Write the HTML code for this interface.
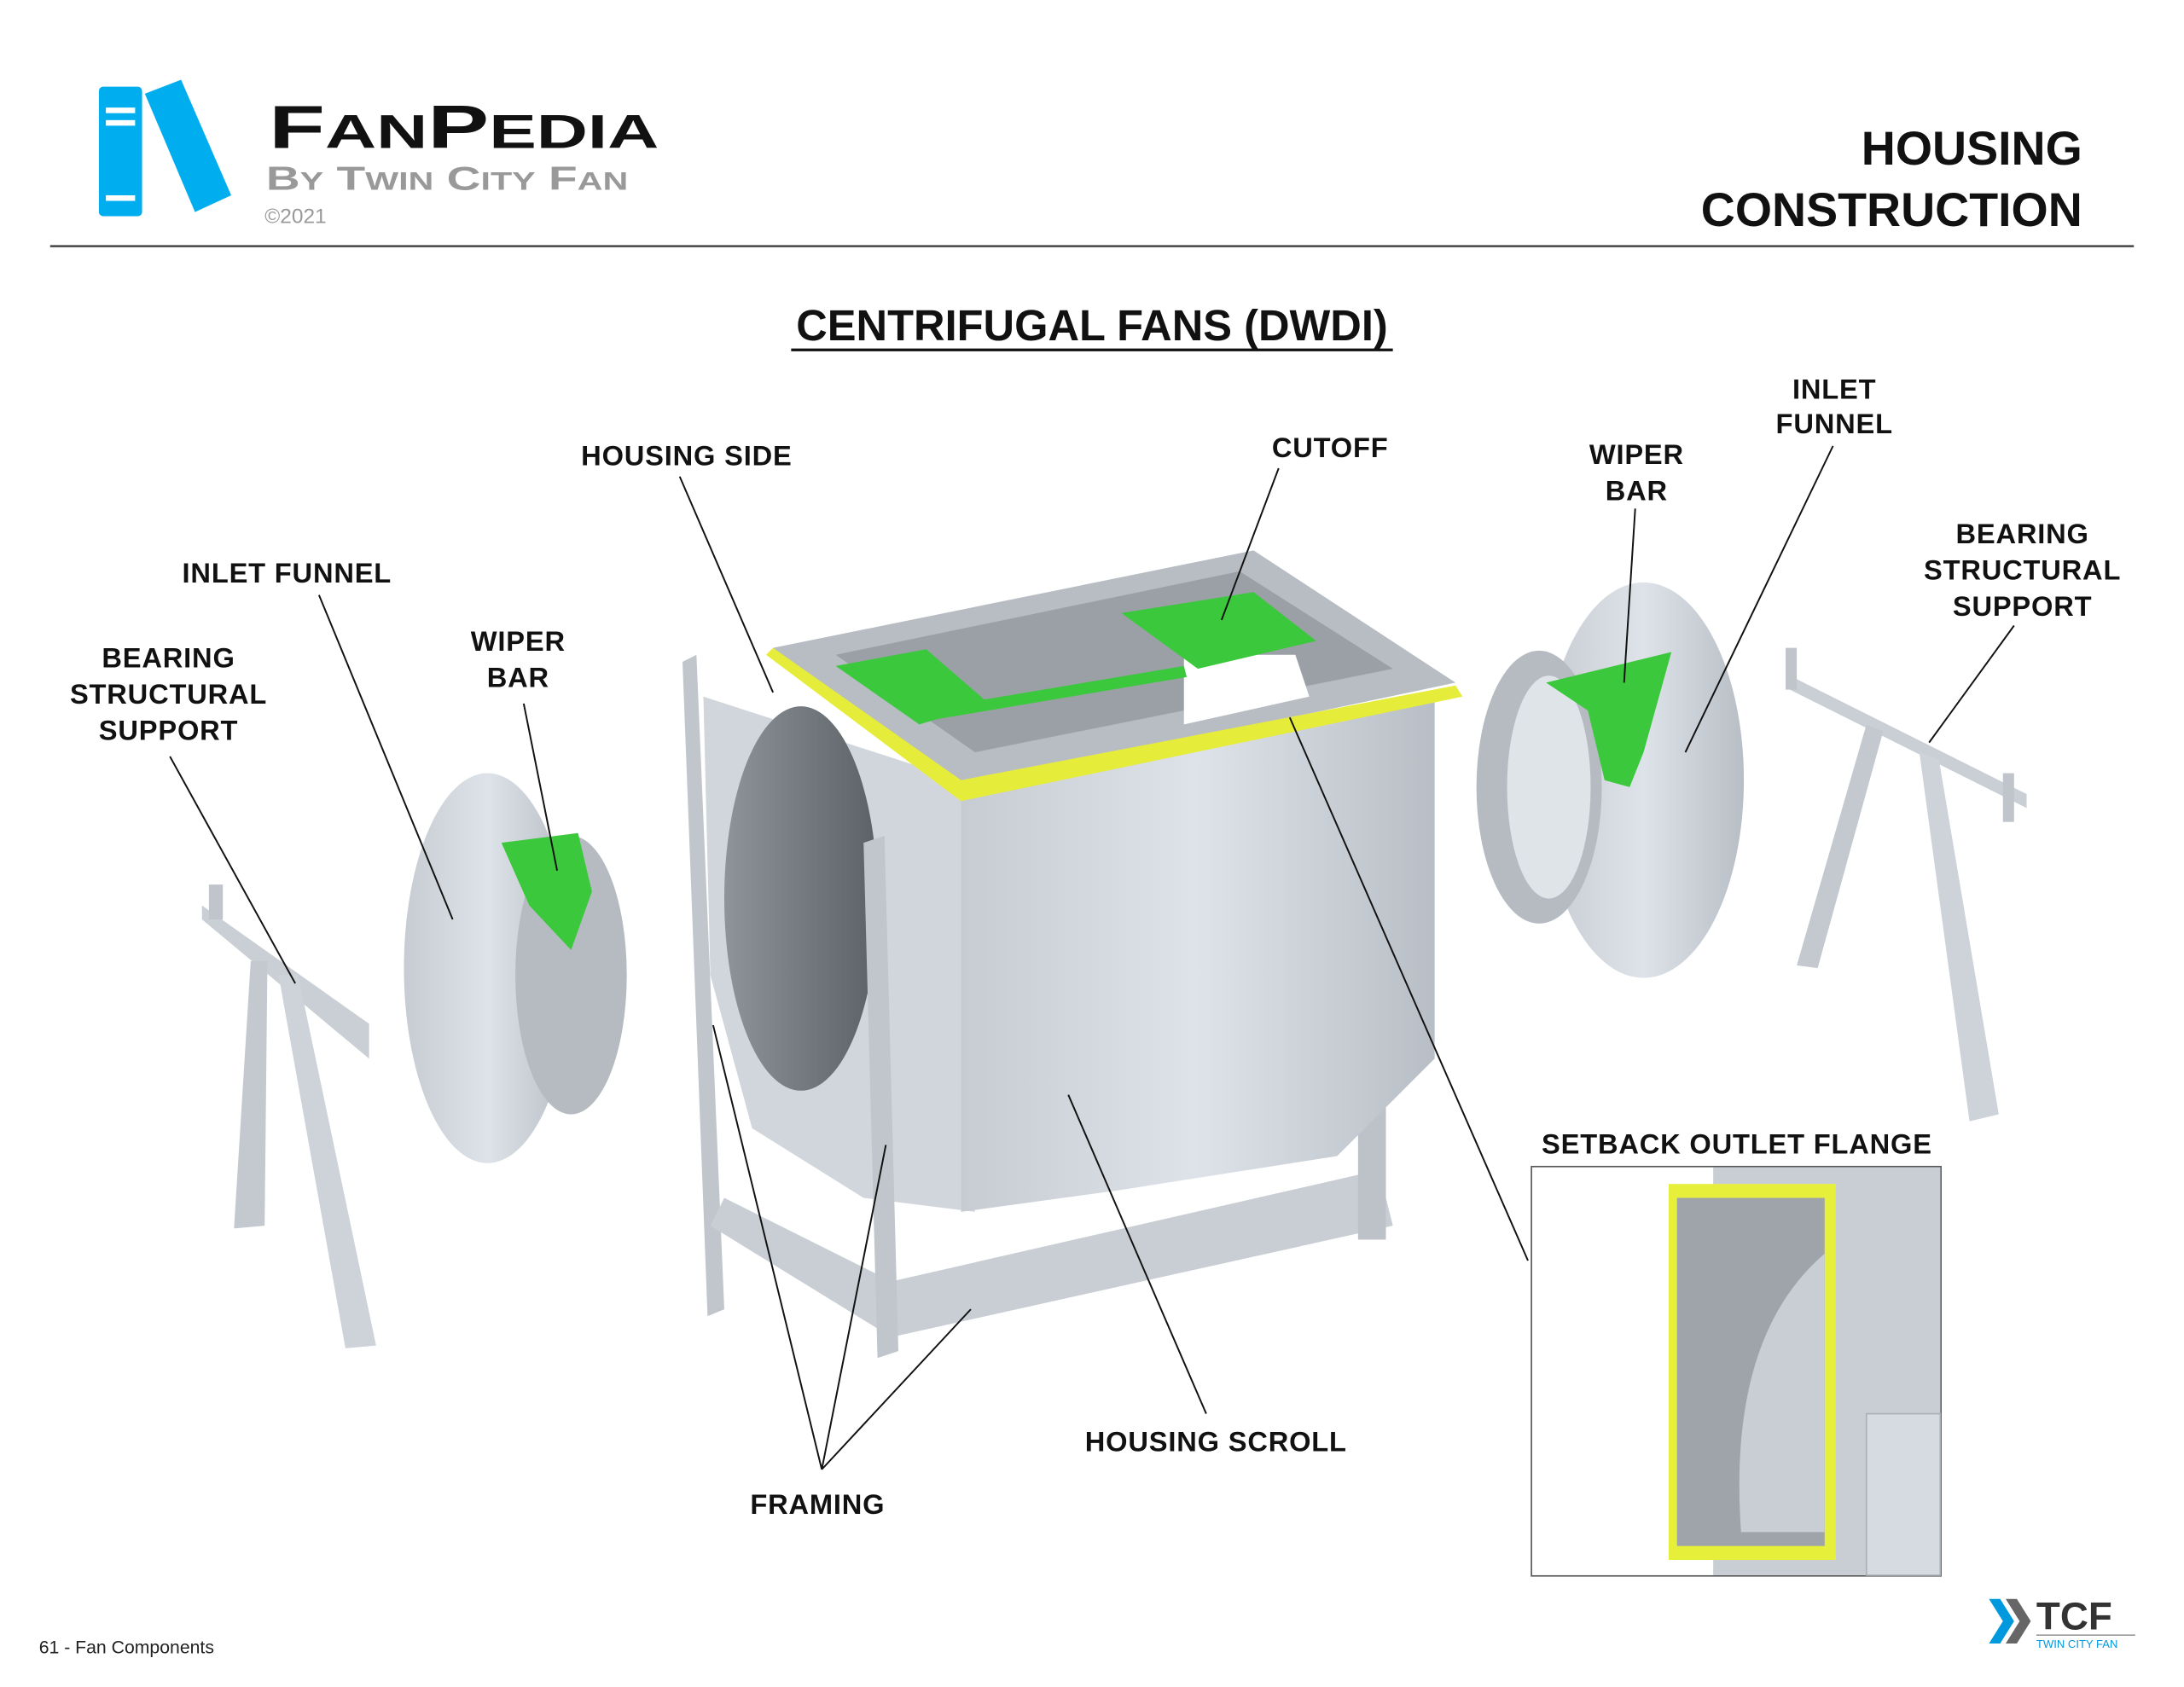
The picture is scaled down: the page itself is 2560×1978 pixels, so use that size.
<!DOCTYPE html>
<html><head><meta charset="utf-8"><style>
html,body{margin:0;padding:0;background:#fff}
svg{display:block}
text{font-family:"Liberation Sans",sans-serif}
.l{font-weight:bold;font-size:20px;fill:#111;text-anchor:middle;letter-spacing:0.5px}
.ln{stroke:#111;stroke-width:1.2;fill:none}
</style></head><body>
<svg width="2560" height="1978" viewBox="0 0 1568 1211" xmlns="http://www.w3.org/2000/svg">
<defs>
<linearGradient id="g1" x1="0" x2="1"><stop offset="0" stop-color="#c6ccd2"/><stop offset="0.5" stop-color="#dde3e9"/><stop offset="1" stop-color="#b8bec5"/></linearGradient>
<linearGradient id="g2" x1="0" x2="1"><stop offset="0" stop-color="#8e949a"/><stop offset="1" stop-color="#5c6166"/></linearGradient>
</defs>
<rect x="71" y="62" width="31" height="93" rx="3" fill="#00aeef"/>
<rect x="76" y="77" width="21" height="4" fill="#fff"/><rect x="76" y="86" width="21" height="4" fill="#fff"/><rect x="76" y="140" width="21" height="4" fill="#fff"/>
<polygon points="104,67 130,57 166,140 140,152" fill="#00aeef"/>
<text x="193" y="106" font-size="44" font-weight="bold" fill="#111" textLength="280" lengthAdjust="spacingAndGlyphs">F<tspan font-size="34">AN</tspan>P<tspan font-size="34">EDIA</tspan></text>
<text x="191" y="136" font-size="24" fill="#999" font-weight="bold" textLength="260" lengthAdjust="spacingAndGlyphs">B<tspan font-size="18">Y</tspan> T<tspan font-size="18">WIN</tspan> C<tspan font-size="18">ITY</tspan> F<tspan font-size="18">AN</tspan></text>
<text x="190" y="160" font-size="15" fill="#999">©2021</text>
<text x="1495" y="118" font-size="34" font-weight="bold" text-anchor="end" fill="#111">HOUSING</text>
<text x="1495" y="162" font-size="34" font-weight="bold" text-anchor="end" fill="#111">CONSTRUCTION</text>
<line x1="36" y1="176.5" x2="1532" y2="176.5" stroke="#444" stroke-width="1.5"/>
<text x="784" y="244" font-size="31" font-weight="bold" text-anchor="middle" fill="#111">CENTRIFUGAL FANS (DWDI)</text>
<line x1="568" y1="251" x2="1000" y2="251" stroke="#111" stroke-width="2"/>

<polygon points="145,650 265,735 265,760 145,660" fill="#c9cfd5"/>
<polygon points="180,690 192,690 190,880 168,882" fill="#c3c9cf"/>
<polygon points="200,700 214,700 270,966 248,968" fill="#cdd3d9"/>
<rect x="150" y="635" width="10" height="25" fill="#bfc5cb"/>
<ellipse cx="350" cy="695" rx="60" ry="140" fill="url(#g1)"/>
<ellipse cx="410" cy="700" rx="40" ry="100" fill="#b5bbc1"/>
<polygon points="360,605 415,598 425,640 410,682 380,650" fill="#3cc83c"/>
<polygon points="490,475 500,470 520,940 508,945" fill="#c0c6cc"/>
<polygon points="510,880 640,960 1000,880 990,840 640,920 520,860" fill="#c8ced4"/>
<rect x="975" y="790" width="20" height="100" fill="#bcc2c8"/>
<polygon points="505,500 690,560 700,870 620,860 540,810 510,700" fill="#d0d6dc"/>
<ellipse cx="575" cy="645" rx="55" ry="138" fill="url(#g2)"/>
<polygon points="620,605 635,600 645,970 630,975" fill="#c0c6cc"/>
<polygon points="690,565 1030,500 1030,760 960,830 800,855 690,870" fill="url(#g1)"/>
<polygon points="555,465 900,395 1045,490 690,565" fill="#b7bdc3"/>
<polygon points="600,470 890,410 1000,480 700,540" fill="#9aa0a6"/>
<polygon points="850,470 930,470 940,500 850,520" fill="#fff"/>
<polygon points="555,465 690,560 1045,492 1050,500 690,575 550,470" fill="#e6ec3a"/>
<polygon points="600,478 665,466 710,505 660,520" fill="#3cc83c"/>
<polygon points="805,440 900,425 945,460 860,480" fill="#3cc83c"/>
<polygon points="660,510 850,478 852,486 662,518" fill="#3cc83c"/>
<ellipse cx="1180" cy="560" rx="72" ry="142" fill="url(#g1)"/>
<ellipse cx="1105" cy="565" rx="45" ry="98" fill="#b5bbc1"/>
<ellipse cx="1112" cy="565" rx="30" ry="80" fill="#dfe4e9"/>
<polygon points="1110,490 1200,468 1180,540 1170,565 1152,560 1140,510" fill="#3cc83c"/>
<polygon points="1285,485 1455,570 1455,580 1285,495" fill="#c9cfd5"/>
<polygon points="1340,520 1352,525 1305,695 1290,693" fill="#c3c9cf"/>
<polygon points="1378,540 1392,545 1435,800 1414,805" fill="#cdd3d9"/>
<rect x="1282" y="465" width="8" height="30" fill="#bfc5cb"/>
<rect x="1438" y="555" width="8" height="35" fill="#bfc5cb"/>

<rect x="1099.5" y="837.5" width="294" height="294" fill="#fff" stroke="#555" stroke-width="1"/>
<rect x="1230" y="838" width="163" height="293" fill="#c8ced4"/>
<rect x="1198" y="850" width="120" height="270" fill="#e6f03a"/>
<rect x="1204" y="860" width="106" height="250" fill="#9ea4aa"/>
<path d="M1310,900 Q1240,960 1250,1100 L1310,1100Z" fill="#c8ced4"/>
<rect x="1340" y="1015" width="53" height="116" fill="#d5dbe0" stroke="#aab0b6"/>

<path class="ln" d="M122,543 L212,706"/>
<path class="ln" d="M229,427 L325,660"/>
<path class="ln" d="M376,505 L400,625"/>
<path class="ln" d="M488,342 L555,497"/>
<path class="ln" d="M918,336 L877,445"/>
<path class="ln" d="M1174,365 L1166,490"/>
<path class="ln" d="M1316,320 L1210,540"/>
<path class="ln" d="M1446,449 L1385,533"/>
<path class="ln" d="M926,515 L1097,905"/>
<path class="ln" d="M767,786 L866,1015"/>
<path class="ln" d="M590,1055 L512,736 M590,1055 L636,822 M590,1055 L697,940"/>

<text class="l" x="121" y="479">BEARING</text><text class="l" x="121" y="505">STRUCTURAL</text><text class="l" x="121" y="531">SUPPORT</text>
<text class="l" x="206" y="418">INLET FUNNEL</text>
<text class="l" x="372" y="467">WIPER</text><text class="l" x="372" y="493">BAR</text>
<text class="l" x="493" y="334">HOUSING SIDE</text>
<text class="l" x="955" y="328">CUTOFF</text>
<text class="l" x="1175" y="333">WIPER</text><text class="l" x="1175" y="359">BAR</text>
<text class="l" x="1317" y="286">INLET</text><text class="l" x="1317" y="311">FUNNEL</text>
<text class="l" x="1452" y="390">BEARING</text><text class="l" x="1452" y="416">STRUCTURAL</text><text class="l" x="1452" y="442">SUPPORT</text>
<text class="l" x="1247" y="828">SETBACK OUTLET FLANGE</text>
<text class="l" x="873" y="1042">HOUSING SCROLL</text>
<text class="l" x="587" y="1087">FRAMING</text>

<text x="28" y="1187" font-size="13" fill="#222">61 - Fan Components</text>
<polygon points="1428,1148 1436,1148 1446,1164 1436,1180 1428,1180 1438,1164" fill="#0099dd"/>
<polygon points="1440,1148 1448,1148 1458,1164 1448,1180 1440,1180 1450,1164" fill="#666"/>
<text x="1462" y="1170" font-size="28" font-weight="bold" fill="#333">TCF</text>
<line x1="1462" y1="1174" x2="1533" y2="1174" stroke="#999" stroke-width="1"/>
<text x="1462" y="1183" font-size="8" fill="#0099dd">TWIN CITY FAN</text>
</svg>
</body></html>
